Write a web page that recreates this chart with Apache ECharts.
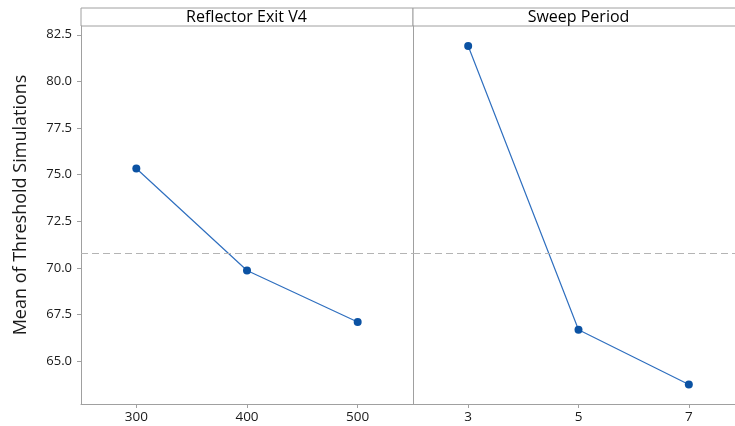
<!DOCTYPE html>
<html>
<head>
<meta charset="utf-8">
<script src="https://cdn.jsdelivr.net/npm/echarts@6/dist/echarts.min.js"></script>
<style>
  html, body { margin: 0; padding: 0; background: #fff; overflow: hidden; }
  /* the canvas is a little wider than the window so the right panel runs off the edge */
  #chart { width: 760px; height: 426px; }
</style>
</head>
<body>
<div id="chart"></div>
<script>
// Main effects plot: mean response at each factor level
const panelTitles = ['Reflector Exit V4', 'Sweep Period'];
const reflectorLevels = ['300', '400', '500'];
const reflectorMeans = [75.33, 69.86, 67.10];
const sweepLevels = ['3', '5', '7'];
const sweepMeans = [81.90, 66.68, 63.75];
const grandMean = 70.77;
const yTicks = [65.0, 67.5, 70.0, 72.5, 75.0, 77.5, 80.0, 82.5];
const yTitle = 'Mean of Threshold Simulations';

const FONT = '"Open Sans", "Noto Sans", sans-serif';
const AXIS_GRAY = '#a0a0a0';
const LINE_BLUE = '#2f6fbf';
const DOT_BLUE = '#0b52a3';
const TEXT = '#1a1a1a';

// panel geometry (pixels)
const plotTop = 26, plotBottom = 404, stripTop = 8;
const panelLeft = [81, 413];
const panelWidth = 331;

const chart = echarts.init(document.getElementById('chart'), null, { renderer: 'canvas' });

function yAxisFor(i) {
  return {
    type: 'value',
    gridIndex: i,
    min: 62.7,
    max: 82.97,
    axisLine: { show: true, lineStyle: { color: AXIS_GRAY, width: 1 } },
    axisTick: { show: i === 0, length: 4, lineStyle: { color: AXIS_GRAY }, customValues: yTicks },
    axisLabel: {
      show: i === 0,
      customValues: yTicks,
      margin: 9,
      fontFamily: FONT, fontSize: 13, color: TEXT,
      formatter: v => v.toFixed(1)
    },
    splitLine: { show: false }
  };
}

function xAxisFor(i, cats) {
  return {
    type: 'category',
    gridIndex: i,
    data: cats,
    boundaryGap: true,
    axisLine: { show: true, lineStyle: { color: AXIS_GRAY, width: 1 } },
    axisTick: { show: true, alignWithLabel: true, length: 4, lineStyle: { color: AXIS_GRAY } },
    axisLabel: { margin: 6, fontFamily: FONT, fontSize: 13.5, color: TEXT },
    splitLine: { show: false }
  };
}

function seriesFor(i, values) {
  return {
    type: 'line',
    xAxisIndex: i,
    yAxisIndex: i,
    data: values,
    symbol: 'circle',
    symbolSize: 8,
    lineStyle: { color: LINE_BLUE, width: 1.2 },
    itemStyle: { color: DOT_BLUE },
    silent: true,
    markLine: {
      silent: true,
      symbol: 'none',
      label: { show: false },
      lineStyle: { color: '#b4b4b4', type: [7, 4], width: 1.2 },
      data: [{ yAxis: grandMean }]
    }
  };
}

// header strips above each panel, plus the vertical axis title
const graphics = [];
panelTitles.forEach((t, i) => {
  graphics.push({
    type: 'rect',
    shape: { x: panelLeft[i], y: stripTop, width: panelWidth + (i === 0 ? 1 : 0), height: plotTop - stripTop },
    style: { fill: '#fff', stroke: AXIS_GRAY, lineWidth: 1 }
  });
  graphics.push({
    type: 'text',
    x: panelLeft[i] + panelWidth / 2,
    y: (stripTop + plotTop) / 2 + 0.5,
    style: {
      text: t, fontFamily: FONT, fontSize: 16, fill: '#000',
      textAlign: 'center', textVerticalAlign: 'middle'
    }
  });
});
graphics.push({
  type: 'text',
  x: 21,
  y: 205,
  rotation: Math.PI / 2,
  style: {
    text: yTitle, fontFamily: FONT, fontSize: 18, fill: TEXT,
    textAlign: 'center', textVerticalAlign: 'middle'
  }
});

chart.setOption({
  animation: false,
  backgroundColor: '#fff',
  grid: [
    { left: panelLeft[0], top: plotTop, width: panelWidth + 1, height: plotBottom - plotTop },
    { left: panelLeft[1], top: plotTop, width: panelWidth, height: plotBottom - plotTop }
  ],
  xAxis: [xAxisFor(0, reflectorLevels), xAxisFor(1, sweepLevels)],
  yAxis: [yAxisFor(0), yAxisFor(1)],
  series: [seriesFor(0, reflectorMeans), seriesFor(1, sweepMeans)],
  graphic: graphics
});
</script>
</body>
</html>
